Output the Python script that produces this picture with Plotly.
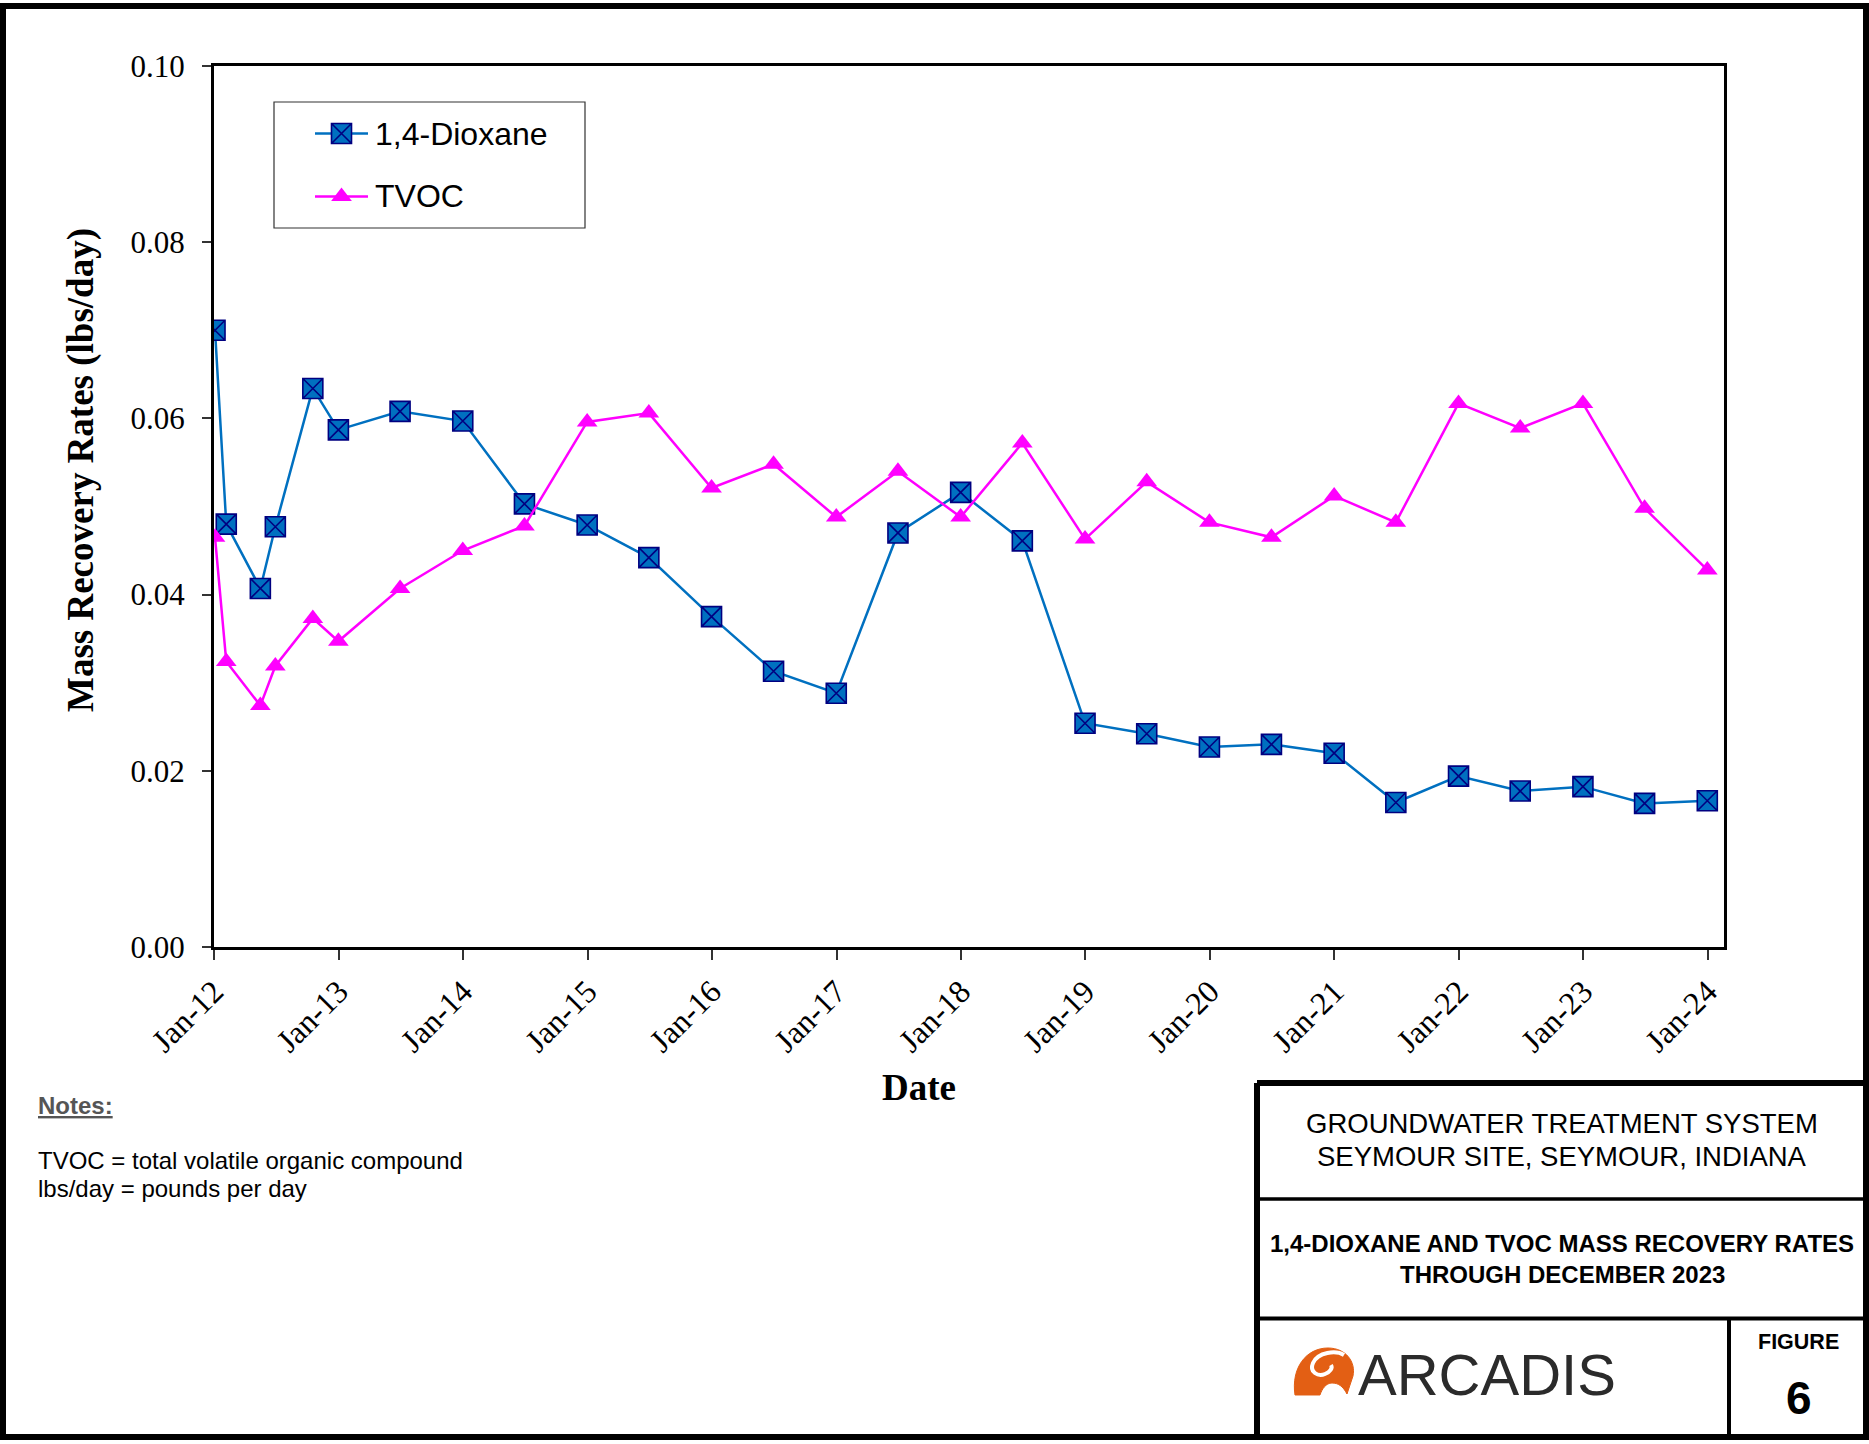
import plotly.graph_objects as go

# Sampling dates (semi-annual after 2012) and mass recovery rates, lbs/day
dates = ["2012-01-04", "2012-02-06", "2012-05-16", "2012-06-29", "2012-10-17",
         "2012-12-31", "2013-06-30", "2013-12-31", "2014-06-30", "2014-12-31",
         "2015-06-30", "2015-12-31", "2016-06-30", "2016-12-31", "2017-06-30",
         "2017-12-31", "2018-06-30", "2018-12-31", "2019-06-30", "2019-12-31",
         "2020-06-30", "2020-12-31", "2021-06-30", "2021-12-31", "2022-06-30",
         "2022-12-31", "2023-06-30", "2023-12-31"]
dioxane = [0.0700, 0.0480, 0.0407, 0.0477, 0.0634, 0.0587, 0.0608, 0.0597, 0.0503,
           0.0479, 0.0442, 0.0375, 0.0313, 0.0288, 0.0470, 0.0516, 0.0461, 0.0254,
           0.0242, 0.0227, 0.0230, 0.0220, 0.0164, 0.0194, 0.0177, 0.0182, 0.0163,
           0.0166]
tvoc = [0.0465, 0.0324, 0.0274, 0.0319, 0.0373, 0.0347, 0.0407, 0.0450, 0.0478,
        0.0596, 0.0606, 0.0521, 0.0548, 0.0488, 0.0540, 0.0488, 0.0572, 0.0463,
        0.0528, 0.0482, 0.0465, 0.0512, 0.0482, 0.0617, 0.0589, 0.0617, 0.0498,
        0.0428]
series_names = ["1,4-Dioxane", "TVOC"]

y_ticks = [0.00, 0.02, 0.04, 0.06, 0.08, 0.10]

notes_lines = ["TVOC = total volatile organic compound", "lbs/day = pounds per day"]
block_lines = ["GROUNDWATER TREATMENT SYSTEM", "SEYMOUR SITE, SEYMOUR, INDIANA"]
title_lines = ["1,4-DIOXANE AND TVOC MASS RECOVERY RATES", "THROUGH DECEMBER 2023"]

SERIF = "Liberation Serif, Times New Roman, serif"
SANS = "Liberation Sans, Arial, sans-serif"

FW, FH = 1869, 1444
ML, MR, MT, MB = 214, 145, 66, 497
PW, PH = FW - ML - MR, FH - MT - MB


def px(x):
    return (x - ML) / PW


def py(y):
    return (FH - MB - y) / PH


def path(points, close=True):
    parts = []
    for cmd, pts in points:
        coords = " ".join(f"{px(x):.5f},{py(y):.5f}" for x, y in pts)
        parts.append(f"{cmd} {coords}")
    s = " ".join(parts)
    return s + (" Z" if close else "")


styles = [
    dict(line=dict(color="#0070C0", width=2.5),
         marker=dict(symbol="square-x", size=20, color="#0070C0",
                     line=dict(color="#000080", width=1.6))),
    dict(line=dict(color="#FF00FF", width=2.5),
         marker=dict(symbol="triangle-up", size=18, color="#FF00FF")),
]

fig = go.Figure()

for name, values, st in zip(series_names, [dioxane, tvoc], styles):
    fig.add_trace(go.Scatter(x=dates, y=values, name=name, mode="lines+markers",
                             line=st["line"], marker=st["marker"], showlegend=False))

# legend keys drawn on an overlay axis spanning the plot area (0..1)
legend_rows = [133.5, 196.5]
for st, row in zip(styles, legend_rows):
    fig.add_trace(go.Scatter(
        x=[px(315), px(341.5), px(368)], y=[py(row)] * 3,
        xaxis="x2", yaxis="y2", mode="lines", line=st["line"],
        showlegend=False, hoverinfo="skip"))
    fig.add_trace(go.Scatter(
        x=[px(341.5)], y=[py(row)], xaxis="x2", yaxis="y2", mode="markers",
        marker=st["marker"], showlegend=False, hoverinfo="skip"))

shapes = []
# outer sheet border
shapes.append(dict(type="rect", xref="paper", yref="paper",
                   x0=px(3), x1=px(1866), y0=py(1437), y1=py(6),
                   line=dict(color="black", width=6)))
# legend frame
shapes.append(dict(type="rect", xref="paper", yref="paper",
                   x0=px(274), x1=px(585), y0=py(228), y1=py(102),
                   line=dict(color="#333333", width=1.2), fillcolor="rgba(0,0,0,0)"))
# title block
shapes.append(dict(type="line", xref="paper", yref="paper",
                   x0=px(1257), x1=px(1257), y0=py(1083), y1=py(1437),
                   line=dict(color="black", width=6)))
shapes.append(dict(type="line", xref="paper", yref="paper",
                   x0=px(1257), x1=px(1866), y0=py(1083), y1=py(1083),
                   line=dict(color="black", width=6)))
shapes.append(dict(type="line", xref="paper", yref="paper",
                   x0=px(1257), x1=px(1866), y0=py(1199), y1=py(1199),
                   line=dict(color="black", width=3.5)))
shapes.append(dict(type="line", xref="paper", yref="paper",
                   x0=px(1257), x1=px(1866), y0=py(1318.5), y1=py(1318.5),
                   line=dict(color="black", width=4)))
shapes.append(dict(type="line", xref="paper", yref="paper",
                   x0=px(1729), x1=px(1729), y0=py(1318), y1=py(1437),
                   line=dict(color="black", width=4)))

# logo mark: orange dome with a white swirl
logo_outer = [
    ("M", [(1295, 1395)]),
    ("C", [(1291, 1368), (1306, 1348), (1328, 1348)]),
    ("C", [(1346, 1348), (1356, 1362), (1353, 1376)]),
    ("L", [(1347, 1394)]),
    ("C", [(1343, 1386), (1338, 1383), (1332, 1383)]),
    ("C", [(1326, 1383), (1322, 1389), (1320, 1395)]),
]
shapes.append(dict(type="path", xref="paper", yref="paper", path=path(logo_outer),
                   fillcolor="#E35F14", line=dict(color="#E35F14", width=1)))
logo_swirl = [
    ("M", [(1344, 1355)]),
    ("C", [(1336, 1350), (1318, 1352), (1313, 1363)]),
    ("C", [(1309, 1372), (1318, 1377), (1325, 1374)]),
    ("C", [(1330, 1372), (1333, 1368), (1331, 1365)]),
]
shapes.append(dict(type="path", xref="paper", yref="paper",
                   path=path(logo_swirl, close=False),
                   line=dict(color="white", width=4)))

annotations = []


def note(text, x, y, size, family=SANS, color="black", xanchor="center", angle=0):
    annotations.append(dict(text=text, x=px(x), y=py(y), xref="paper", yref="paper",
                            showarrow=False, xanchor=xanchor, yanchor="middle",
                            textangle=angle,
                            font=dict(family=family, size=size, color=color)))


# legend labels
for name, row in zip(series_names, legend_rows):
    note(name, 373, row, 32, xanchor="left")

# axis titles
note("<b>Mass Recovery Rates (lbs/day)</b>", 81, 470, 37, family=SERIF, angle=-90)
note("<b>Date</b>", 919, 1087, 37, family=SERIF)

# notes
note("<b><u>Notes:</u></b>", 36, 1105, 24, color="#555555", xanchor="left")
note(notes_lines[0], 36, 1160, 24, xanchor="left")
note(notes_lines[1], 36, 1188, 24, xanchor="left")

# title block text
note(block_lines[0], 1562, 1123, 27.5)
note(block_lines[1], 1562, 1156, 27.5)
note("<b>" + title_lines[0] + "</b>", 1562, 1243, 24)
note("<b>" + title_lines[1] + "</b>", 1562, 1274, 24)
note("<b>FIGURE</b>", 1799, 1342, 21.5)
note("<b>6</b>", 1799, 1398, 46)
note("ARCADIS", 1356, 1374, 58, color="#2B2B2B", xanchor="left")

fig.update_layout(
    width=FW, height=FH,
    margin=dict(l=ML, r=MR, t=MT, b=MB),
    paper_bgcolor="white", plot_bgcolor="white",
    shapes=shapes, annotations=annotations,
    showlegend=False,
    xaxis=dict(
        type="date", range=["2012-01-01", "2024-02-18"],
        tick0="2012-01-01", dtick="M12", tickformat="%b-%y",
        tickangle=-45, ticks="outside", ticklen=10, tickwidth=1.5,
        tickcolor="#333333", showline=True, linecolor="black", linewidth=3,
        mirror=True, showgrid=False, zeroline=False,
        tickfont=dict(family=SERIF, size=32, color="black"),
    ),
    yaxis=dict(
        range=[0, 0.1], tickvals=y_ticks, tickformat=".2f",
        ticks="outside", ticklen=9, tickwidth=1.5, tickcolor="#333333",
        showline=True, linecolor="black", linewidth=3, mirror=True,
        showgrid=False, zeroline=False, ticklabelstandoff=11,
        tickfont=dict(family=SERIF, size=31, color="black"),
    ),
    xaxis2=dict(overlaying="x", anchor="y2", range=[0, 1], visible=False,
                fixedrange=True),
    yaxis2=dict(overlaying="y", anchor="x2", range=[0, 1], visible=False,
                fixedrange=True),
)

fig.write_html("out.html")
